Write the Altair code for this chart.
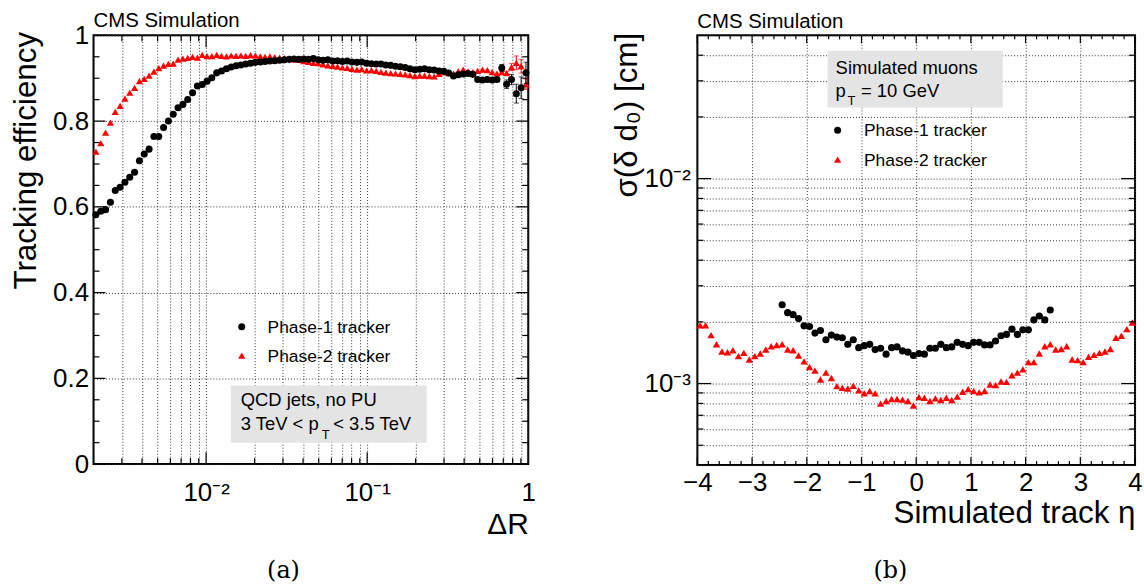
import altair as alt
import pandas as pd

FONT = "Liberation Sans"

# ---------------- panel (a): tracking efficiency vs Delta R ----------------
dr = [0.002070, 0.002218, 0.002377, 0.002547, 0.002729, 0.002924, 0.003133, 0.003357, 0.003597, 0.003855,
      0.004130, 0.004426, 0.004742, 0.005082, 0.005445, 0.005834, 0.006252, 0.006699, 0.007178, 0.007691,
      0.008241, 0.008831, 0.009462, 0.01014, 0.01086, 0.01164, 0.01247, 0.01337, 0.01432, 0.01535,
      0.01644, 0.01762, 0.01888, 0.02023, 0.02168, 0.02323, 0.02489, 0.02667, 0.02858, 0.03062,
      0.03281, 0.03516, 0.03767, 0.04036, 0.04325, 0.04634, 0.04966, 0.05321, 0.05702, 0.06109,
      0.06546, 0.07015, 0.07516, 0.08054, 0.08630, 0.09247, 0.09908, 0.1062, 0.1138, 0.1219,
      0.1306, 0.1400, 0.1500, 0.1607, 0.1722, 0.1845, 0.1977, 0.2118, 0.2270, 0.2432,
      0.2606, 0.2793, 0.2992, 0.3206, 0.3436, 0.3681, 0.3945, 0.4227, 0.4529, 0.4853,
      0.5200, 0.5572, 0.5970, 0.6397, 0.6855, 0.7345, 0.7870, 0.8433, 0.9036, 0.9683]

eff_phase1 = [0.5815, 0.5895, 0.5935, 0.6109, 0.638, 0.6457, 0.6573, 0.6689, 0.6805, 0.7077,
              0.723, 0.7346, 0.764, 0.764, 0.7849, 0.8004, 0.8158, 0.8313, 0.839, 0.8506,
              0.8661, 0.8817, 0.8854, 0.8932, 0.9009, 0.9125, 0.917, 0.922, 0.926, 0.929,
              0.931, 0.933, 0.935, 0.937, 0.938, 0.939, 0.940, 0.941, 0.942, 0.943,
              0.944, 0.945, 0.944, 0.945, 0.944, 0.946, 0.943, 0.942, 0.943, 0.940,
              0.941, 0.939, 0.940, 0.938, 0.937, 0.938, 0.935, 0.934, 0.933, 0.933,
              0.931, 0.930, 0.928, 0.927, 0.925, 0.922, 0.920, 0.921, 0.922, 0.920,
              0.919, 0.917, 0.916, 0.912, 0.905, 0.908, 0.910, 0.911, 0.909, 0.897,
              0.896, 0.897, 0.896, 0.897, 0.924, 0.886, 0.897, 0.864, 0.878, 0.9125]

eff_phase2 = [0.7285, 0.7485, 0.7733, 0.7965, 0.8213, 0.8353, 0.8522, 0.8661, 0.8777, 0.8932,
              0.8986, 0.9063, 0.9156, 0.9234, 0.9295, 0.9334, 0.9342, 0.9435, 0.9458, 0.9474,
              0.9497, 0.9481, 0.9543, 0.9513, 0.9513, 0.9543, 0.952, 0.951, 0.953, 0.952,
              0.953, 0.952, 0.954, 0.953, 0.951, 0.950, 0.951, 0.949, 0.948, 0.947,
              0.946, 0.944, 0.943, 0.940, 0.938, 0.936, 0.935, 0.932, 0.930, 0.929,
              0.927, 0.925, 0.924, 0.922, 0.920, 0.921, 0.918, 0.919, 0.917, 0.915,
              0.913, 0.912, 0.911, 0.910, 0.909, 0.907, 0.905, 0.906, 0.906, 0.905,
              0.904, 0.910, 0.914, 0.912, 0.911, 0.916, 0.920, 0.916, 0.914, 0.917,
              0.920, 0.919, 0.914, 0.911, 0.914, 0.912, 0.926, 0.936, 0.928, 0.886]

# statistical errors of the last six bins (smaller elsewhere than the markers)
err_phase1_tail = [0.008, 0.010, 0.012, 0.022, 0.025, 0.025]
err_phase2_tail = [0.004, 0.004, 0.008, 0.016, 0.016, 0.012]

xa_grid = [0.002, 0.003, 0.004, 0.005, 0.006, 0.007, 0.008, 0.009,
           0.01, 0.02, 0.03, 0.04, 0.05, 0.06, 0.07, 0.08, 0.09,
           0.1, 0.2, 0.3, 0.4, 0.5, 0.6, 0.7, 0.8, 0.9, 1]
xa_major = [0.01, 0.1]
xa_minor = [0.003, 0.004, 0.005, 0.006, 0.007, 0.008, 0.009,
            0.02, 0.03, 0.04, 0.05, 0.06, 0.07, 0.08, 0.09,
            0.2, 0.3, 0.4, 0.5, 0.6, 0.7, 0.8, 0.9]
ya_major = [0, 0.2, 0.4, 0.6, 0.8, 1.0]
ya_minor = [0.05, 0.1, 0.15, 0.25, 0.3, 0.35, 0.45, 0.5, 0.55,
            0.65, 0.7, 0.75, 0.85, 0.9, 0.95]

# ---------------- panel (b): d0 resolution vs eta ----------------
eta_phase1 = [-2.45, -2.35, -2.25, -2.15, -2.05, -1.95, -1.85, -1.75, -1.65, -1.55,
              -1.45, -1.35, -1.25, -1.15, -1.05, -0.95, -0.85, -0.75, -0.65, -0.55,
              -0.45, -0.35, -0.25, -0.15, -0.05, 0.05, 0.15, 0.25, 0.35, 0.45,
              0.55, 0.65, 0.75, 0.85, 0.95, 1.05, 1.15, 1.25, 1.35, 1.45,
              1.55, 1.65, 1.75, 1.85, 1.95, 2.05, 2.15, 2.25, 2.35, 2.45]
sigma_phase1 = [0.002423, 0.002217, 0.002168, 0.002074, 0.001912, 0.001898, 0.001762, 0.001815, 0.001636, 0.001723,
                0.001686, 0.001673, 0.001554, 0.001636, 0.001497, 0.001531, 0.001554, 0.001465, 0.001486, 0.001391,
                0.001497, 0.001509, 0.001443, 0.001422, 0.001370, 0.001401, 0.001391, 0.001486, 0.001486, 0.001554,
                0.001497, 0.001509, 0.001589, 0.001554, 0.001531, 0.001589, 0.001589, 0.001543, 0.001543, 0.001613,
                0.001711, 0.001736, 0.001842, 0.001736, 0.001829, 0.001829, 0.002044, 0.002136, 0.002044, 0.002284]

eta_phase2 = [-3.95, -3.85, -3.75, -3.65, -3.55, -3.45, -3.35, -3.25, -3.15, -3.05,
              -2.95, -2.85, -2.75, -2.65, -2.55, -2.45, -2.35, -2.25, -2.15, -2.05,
              -1.95, -1.85, -1.75, -1.65, -1.55, -1.45, -1.35, -1.25, -1.15, -1.05,
              -0.95, -0.85, -0.75, -0.65, -0.55, -0.45, -0.35, -0.25, -0.15, -0.05,
              0.05, 0.15, 0.25, 0.35, 0.45, 0.55, 0.65, 0.75, 0.85, 0.95,
              1.05, 1.15, 1.25, 1.35, 1.45, 1.55, 1.65, 1.75, 1.85, 1.95,
              2.05, 2.15, 2.25, 2.35, 2.45, 2.55, 2.65, 2.75, 2.85, 2.95,
              3.05, 3.15, 3.25, 3.35, 3.45, 3.55, 3.65, 3.75, 3.85, 3.95]
sigma_phase2 = [0.001926, 0.001926, 0.001723, 0.001554, 0.001433, 0.001422, 0.001454, 0.001360, 0.001411, 0.001311,
                0.001360, 0.001401, 0.001465, 0.001520, 0.001543, 0.001554, 0.001465, 0.001454, 0.001370, 0.001282,
                0.001204, 0.001156, 0.001046, 0.001130, 0.001065, 0.000971, 0.000953, 0.000946, 0.000975, 0.000926,
                0.000895, 0.000919, 0.000895, 0.000798, 0.000822, 0.000841, 0.000841, 0.000835, 0.000822, 0.000781,
                0.000860, 0.000853, 0.000822, 0.000847, 0.000831, 0.000853, 0.000831, 0.000863, 0.000912, 0.000939,
                0.000919, 0.000905, 0.000919, 0.000989, 0.000982, 0.001023, 0.001019, 0.001097, 0.001130, 0.001173,
                0.001272, 0.001272, 0.001401, 0.001520, 0.001554, 0.001465, 0.001475, 0.001520, 0.001311, 0.001301,
                0.001272, 0.001350, 0.001380, 0.001411, 0.001433, 0.001475, 0.001673, 0.001711, 0.001842, 0.001984]

xb_major = [-4, -3, -2, -1, 0, 1, 2, 3, 4]
xb_minor = [-3.8, -3.6, -3.4, -3.2, -2.8, -2.6, -2.4, -2.2, -1.8, -1.6, -1.4, -1.2,
            -0.8, -0.6, -0.4, -0.2, 0.2, 0.4, 0.6, 0.8, 1.2, 1.4, 1.6, 1.8,
            2.2, 2.4, 2.6, 2.8, 3.2, 3.4, 3.6, 3.8]
yb_grid = [0.0004, 0.0005, 0.0006, 0.0007, 0.0008, 0.0009,
           0.001, 0.002, 0.003, 0.004, 0.005, 0.006, 0.007, 0.008, 0.009,
           0.01, 0.02, 0.03, 0.04, 0.05]
yb_major = [0.001, 0.01]
yb_minor = [0.0005, 0.0006, 0.0007, 0.0008, 0.0009,
            0.002, 0.003, 0.004, 0.005, 0.006, 0.007, 0.008, 0.009,
            0.02, 0.03, 0.04]

# ---------------- geometry / style ----------------
WA, HA = 437, 431
WB, HB = 440, 432
LABEL = 26
TITLE = 31.5
LEG = 17.5      # legend entries
BOX = 18.5      # text inside the grey boxes
GRID = dict(grid=True, gridColor="#333333", gridDash=[1, 2], gridWidth=1, gridOpacity=1,
            ticks=False, tickSize=0, domain=False, labelColor="black", labelFont=FONT,
            labelFontSize=LABEL, titleFont=FONT, titleFontWeight="normal", titleColor="black",
            labelOverlap=False, labelFlush=False)


def one():
    return pd.DataFrame({"a": [0]})


def text(s, x, y, size, align="left", font=FONT):
    return alt.Chart(pd.DataFrame({"t": [s]})).mark_text(
        align=align, baseline="alphabetic", fontSize=size, font=font, color="black"
    ).encode(text="t:N", x=alt.value(x), y=alt.value(y))


def rect(x, x2, y, y2):
    return alt.Chart(one()).mark_rect(color="#e4e4e4").encode(
        x=alt.value(x), x2=alt.value(x2), y=alt.value(y), y2=alt.value(y2))


def symbol(shape, color, x, y, size):
    return alt.Chart(one()).mark_point(shape=shape, filled=True, size=size, color=color,
                                       opacity=1, strokeWidth=0).encode(x=alt.value(x), y=alt.value(y))


def bound(x, y, x2=None, y2=None):
    enc = dict(x=alt.value(x), y=alt.value(y))
    if x2 is not None:
        enc["x2"] = alt.value(x2)
    if y2 is not None:
        enc["y2"] = alt.value(y2)
    return alt.Chart(one()).mark_rule(color="white", strokeWidth=0.5).encode(**enc)


def xticks(values, xx, length, H):
    base = alt.Chart(pd.DataFrame({"v": values})).mark_rule(color="black", strokeWidth=1.2)
    return [base.encode(x=xx("v"), y=alt.value(H), y2=alt.value(H - length)),
            base.encode(x=xx("v"), y=alt.value(0), y2=alt.value(length))]


def yticks(values, yy, length, W):
    base = alt.Chart(pd.DataFrame({"v": values})).mark_rule(color="black", strokeWidth=1.2)
    return [base.encode(y=yy("v"), x=alt.value(0), x2=alt.value(length)),
            base.encode(y=yy("v"), x=alt.value(W), x2=alt.value(W - length))]


# ---------------- panel (a) chart ----------------
xa = alt.Scale(type="log", domain=[0.002, 1], nice=False)
ya = alt.Scale(domain=[0, 1], nice=False, zero=False)

axis_xa = alt.Axis(values=xa_grid,
                   labelExpr="datum.value == 0.01 ? '10⁻²' : datum.value == 0.1 ? '10⁻¹' : datum.value == 1 ? '1' : ''",
                   labelBaseline="alphabetic", labelPadding=37,
                   title="ΔR", titleFontSize=30, titleX=WA, titleY=70, titleAlign="right",
                   titleBaseline="alphabetic", **GRID)
axis_ya = alt.Axis(values=ya_major, format="~g", labelPadding=5, labelBaseline="middle",
                   title="Tracking efficiency", titleFontSize=TITLE, titleAngle=270,
                   titleX=-58, titleY=-4, titleAlign="right", titleBaseline="alphabetic", **GRID)


def XA(f):
    return alt.X(f + ":Q", scale=xa, axis=axis_xa)


def YA(f):
    return alt.Y(f + ":Q", scale=ya, axis=axis_ya)


dfa1 = pd.DataFrame({"dr": dr, "eff": eff_phase1})
dfa2 = pd.DataFrame({"dr": dr, "eff": eff_phase2})
tail1 = pd.DataFrame({"dr": dr[84:], "eff": eff_phase1[84:], "err": err_phase1_tail})
tail2 = pd.DataFrame({"dr": dr[84:], "eff": eff_phase2[84:], "err": err_phase2_tail})
for t in (tail1, tail2):
    t["lo"] = t["eff"] - t["err"]
    t["hi"] = t["eff"] + t["err"]

pts_a1 = alt.Chart(dfa1).mark_point(shape="circle", filled=True, size=50, color="black",
                                    opacity=1, strokeWidth=0).encode(x=XA("dr"), y=YA("eff"))
pts_a2 = alt.Chart(dfa2).mark_point(shape="triangle-up", filled=True, size=52, color="red",
                                    opacity=1, strokeWidth=0).encode(x=XA("dr"), y=YA("eff"))


def errbars(df, color):
    bar = alt.Chart(df).mark_rule(color=color, strokeWidth=1).encode(
        x=XA("dr"), y=YA("lo"), y2="hi:Q")
    cap_lo = alt.Chart(df).mark_tick(color=color, orient="horizontal", size=5, thickness=1).encode(
        x=XA("dr"), y=YA("lo"))
    cap_hi = alt.Chart(df).mark_tick(color=color, orient="horizontal", size=5, thickness=1).encode(
        x=XA("dr"), y=YA("hi"))
    return [bar, cap_lo, cap_hi]


layers_a = ([pts_a2]
            + xticks(xa_major, XA, 12, HA) + xticks(xa_minor, XA, 6, HA)
            + yticks(ya_major, YA, 12, WA) + yticks(ya_minor, YA, 6, WA)
            + errbars(tail2, "red") + errbars(tail1, "black")
            + [pts_a1,
               text("CMS Simulation", 0, -8, 20.5),
               symbol("circle", "black", 149, 293, 50),
               text("Phase-1 tracker", 175, 299.5, LEG),
               symbol("triangle-up", "red", 149, 322, 52),
               text("Phase-2 tracker", 175, 328, LEG),
               rect(138, 335, 352, 409.5),
               text("QCD jets, no PU", 148, 373, BOX),
               text("3 TeV < p", 148, 396.5, BOX),
               text("T", 229.5, 406, 13),
               text("< 3.5 TeV", 241, 396.5, BOX),
               text("(a)", 191, 545, 24, align="center", font="DejaVu Serif"),
               bound(-92, 0, y2=1), bound(0, -32, x2=1), bound(WA + 20, 0, y2=1)])

chart_a = alt.layer(*layers_a).properties(width=WA, height=HA)

# ---------------- panel (b) chart ----------------
xb = alt.Scale(domain=[-4, 4], nice=False, zero=False)
yb = alt.Scale(type="log", domain=[0.0004, 0.05], nice=False)

axis_xb = alt.Axis(values=xb_major, labelBaseline="alphabetic", labelPadding=26,
                   title="Simulated track η", titleFontSize=TITLE, titleX=WB, titleY=57.5,
                   titleAlign="right", titleBaseline="alphabetic", **GRID)
axis_yb = alt.Axis(values=yb_grid,
                   labelExpr="datum.value == 0.001 ? '10⁻³' : datum.value == 0.01 ? '10⁻²' : ''",
                   labelPadding=7, labelBaseline="middle",
                   title="σ(δ d₀) [cm]", titleFontSize=TITLE, titleAngle=270,
                   titleX=-61, titleY=-3, titleAlign="right", titleBaseline="alphabetic", **GRID)


def XB(f):
    return alt.X(f + ":Q", scale=xb, axis=axis_xb)


def YB(f):
    return alt.Y(f + ":Q", scale=yb, axis=axis_yb)


dfb1 = pd.DataFrame({"eta": eta_phase1, "sigma": sigma_phase1})
dfb2 = pd.DataFrame({"eta": eta_phase2, "sigma": sigma_phase2})

pts_b1 = alt.Chart(dfb1).mark_point(shape="circle", filled=True, size=52, color="black",
                                    opacity=1, strokeWidth=0).encode(x=XB("eta"), y=YB("sigma"))
pts_b2 = alt.Chart(dfb2).mark_point(shape="triangle-up", filled=True, size=55, color="red",
                                    opacity=1, strokeWidth=0).encode(x=XB("eta"), y=YB("sigma"))

layers_b = ([pts_b2]
            + xticks(xb_major, XB, 8, HB) + xticks(xb_minor, XB, 4, HB)
            + yticks(yb_major, YB, 14, WB) + yticks(yb_minor, YB, 6, WB)
            + [pts_b1,
               text("CMS Simulation", 0, -7, 20.5),
               rect(131, 307, 15.5, 72.5),
               text("Simulated muons", 139, 38.5, BOX),
               text("p", 139, 61.5, BOX),
               text("T", 151, 70.5, 13),
               text("= 10 GeV", 164.5, 61.5, BOX),
               symbol("circle", "black", 141, 95.5, 50),
               text("Phase-1 tracker", 167.5, 101.5, LEG),
               symbol("triangle-up", "red", 141, 125, 52),
               text("Phase-2 tracker", 167.5, 131.5, LEG),
               text("(b)", 194, 545, 24, align="center", font="DejaVu Serif"),
               bound(-120, 0, y2=1), bound(0, -31, x2=1)])

chart_b = alt.layer(*layers_b).properties(width=WB, height=HB)

chart = alt.hconcat(chart_a, chart_b, spacing=26).properties(padding=0).configure(
    font=FONT).configure_view(stroke="black", strokeWidth=2)

chart.save("out.html", embed_options={"renderer": "svg", "actions": False})
